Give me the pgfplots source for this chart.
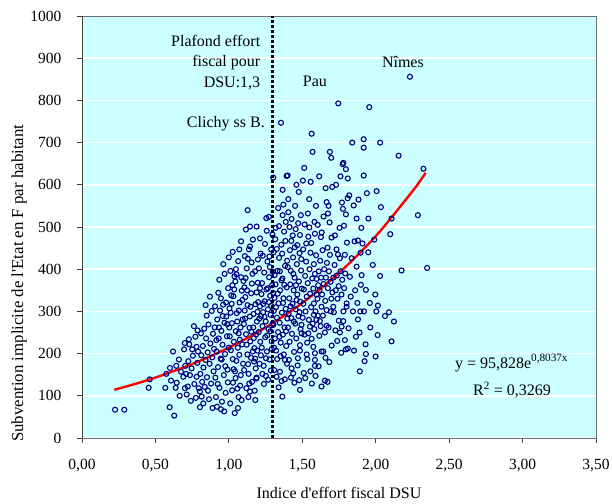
\documentclass[border=0pt]{standalone}
\usepackage{pgfplots}
\pgfplotsset{compat=1.18}
\usepackage{fontspec}
\setmainfont{Liberation Serif}
\definecolor{bgcyan}{RGB}{204,255,255}
\definecolor{ptblue}{RGB}{0,0,128}
\begin{document}
\begin{tikzpicture}
\path[use as bounding box] (0,0) rectangle (612bp,504bp);
\begin{axis}[
  at={(82bp,66bp)}, anchor=south west,
  scale only axis, width=514bp, height=422bp,
  xmin=0, xmax=3.5, ymin=0, ymax=1000,
  xtick={0,0.5,1,1.5,2,2.5,3,3.5},
  ytick={0,100,200,300,400,500,600,700,800,900,1000},
  axis background/.style={fill=bgcyan},
  ymajorgrids, grid style={white, line width=1.6bp},
  tick align=outside, tick pos=left, major tick length=5bp,
  tick style={black!75, line width=0.8bp},
  axis line style={draw=gray!85!black, line width=0.8bp},
  /pgf/number format/assume math mode=true,
  tick label style={font=\fontsize{15.5bp}{18bp}\selectfont},
  xticklabel style={yshift=-13bp, /pgf/number format/.cd, fixed, fixed zerofill, precision=2, use comma},
  yticklabel style={xshift=-12bp, /pgf/number format/.cd, 1000 sep={}},
  clip=true,
]
\addplot[only marks, mark=o, mark size=2.5bp, mark options={draw=ptblue, fill=white, line width=1.1bp}] coordinates {
(0.225,67) (0.288,67) (0.454,119) (0.461,139) (0.567,119) (0.574,152) (0.597,73) (0.599,166)
(0.606,136) (0.628,53) (0.638,119) (0.642,171) (0.645,131) (0.66,186) (0.674,157) (0.69,145) (0.62,205) (0.665,100) (0.695,210) (0.70,225)
(0.703,171) (0.724,182) (0.701,118) (0.713,103) (0.728,234) (0.73,222) (0.746,165) (0.735,149) (0.72,122) (0.78,216) (0.79,205) (0.78,145) (0.755,195) (0.765,128) (0.772,240) (0.741,88) (0.785,178) (0.762,265) (0.795,118) (0.751,210) (0.787,255) (0.709,152) (0.775,95)
(0.803,73) (0.815,98) (0.803,110) (0.81,248) (0.849,290)
(0.806,152) (0.812,196) (0.818,133) (0.823,218) (0.827,167) (0.832,259) (0.836,121) (0.841,185) (0.845,236) (0.851,144) (0.856,203) (0.861,269) (0.865,92) (0.869,176) (0.874,224) (0.879,129) (0.883,301) (0.887,191) (0.892,247) (0.896,158) (0.826,82) (0.858,112) (0.871,335) (0.889,71) (0.842,315) (0.899,211)
(0.928,344) (0.946,331) (0.946,68) (0.971,389) (0.935,375) (0.962,412)
(0.903,262) (0.908,143) (0.912,97) (0.917,205) (0.921,281) (0.926,168) (0.931,236) (0.936,119) (0.94,302) (0.944,188) (0.949,254) (0.953,86) (0.957,221) (0.961,316) (0.966,149) (0.97,273) (0.974,199) (0.978,107) (0.983,288) (0.987,241) (0.991,162) (0.995,355) (0.999,214)
(0.906,312) (0.919,74) (0.933,262) (0.951,186) (0.968,63) (0.981,321) (0.993,132) (0.915,232) (0.958,289) (0.976,170) (0.989,270) (0.924,128)
(1.000,428) (1.026,441) (1.048,400) (1.037,352) (1.040,59) (1.087,90)
(1.003,262) (1.012,297) (1.019,318) (1.031,336) (1.044,371) (1.052,388) (1.063,419) (1.071,447) (1.083,466) (1.092,327)
(1.006,241) (1.014,208) (1.027,187) (1.033,163) (1.046,142) (1.058,117) (1.066,97) (1.077,124) (1.081,149) (1.097,176)
(1.009,82) (1.022,113) (1.028,131) (1.042,158) (1.051,183) (1.061,214) (1.074,233) (1.079,262) (1.094,281)
(1.004,307) (1.016,338) (1.024,362) (1.038,383) (1.047,253) (1.057,276) (1.068,302) (1.073,321) (1.088,349) (1.099,372)
(1.062,71) (1.034,228) (1.071,197) (1.021,272) (1.091,222) (1.054,296) (1.084,381) (1.011,396) (1.067,248)
(1.128,540) (1.144,501) (1.116,494) (1.189,501) (1.144,454) (1.155,416) (1.144,110) (1.18,90)
(1.103,270) (1.108,302) (1.112,334) (1.117,246) (1.121,221) (1.126,198) (1.131,175) (1.135,152) (1.139,129) (1.143,288) (1.148,311) (1.152,343) (1.157,366) (1.161,389) (1.166,262) (1.17,237) (1.174,213) (1.179,188) (1.183,165) (1.187,141) (1.191,276) (1.195,299) (1.199,322)
(1.106,357) (1.114,379) (1.122,402) (1.129,425) (1.137,447) (1.146,229) (1.153,252) (1.163,205) (1.172,181) (1.181,317) (1.189,345) (1.197,368) (1.104,161) (1.119,118) (1.133,97) (1.158,133) (1.176,112) (1.193,207) (1.111,283) (1.127,315) (1.141,261) (1.168,294) (1.185,245) (1.109,431) (1.164,470) (1.178,395) (1.198,423) (1.124,350) (1.151,190)
(1.212,473) (1.255,521) (1.273,524) (1.252,147) (1.189,143)
(1.203,251) (1.207,283) (1.211,312) (1.214,228) (1.218,196) (1.222,341) (1.226,367) (1.229,265) (1.233,298) (1.237,171) (1.241,392) (1.244,324) (1.248,239) (1.251,276) (1.256,352) (1.259,205) (1.263,418) (1.266,305) (1.27,258) (1.274,381) (1.277,186) (1.281,337) (1.284,292) (1.288,447) (1.291,229) (1.295,362) (1.298,271)
(1.205,402) (1.216,437) (1.228,152) (1.239,128) (1.246,460) (1.258,491) (1.268,138) (1.279,405) (1.286,160) (1.297,482)
(1.209,176) (1.224,214) (1.235,318) (1.253,189) (1.261,243) (1.272,322) (1.283,253) (1.292,211) (1.299,394) (1.218,289) (1.243,287) (1.265,355) (1.289,313) (1.231,432) (1.276,430) (1.212,355)
(1.302,617) (1.355,747) (1.366,588) (1.393,621) (1.366,528) (1.364,98) (1.309,161) (1.325,145) (1.348,157) (1.382,185)
(1.303,268) (1.306,301) (1.311,332) (1.314,236) (1.318,364) (1.322,207) (1.327,285) (1.331,396) (1.335,251) (1.338,319) (1.342,427) (1.346,273) (1.349,350) (1.353,226) (1.357,458) (1.361,297) (1.365,378) (1.368,245) (1.372,331) (1.376,489) (1.379,262) (1.383,408) (1.387,306) (1.391,218) (1.394,357) (1.398,283)
(1.305,440) (1.316,471) (1.329,187) (1.341,502) (1.352,194) (1.363,437) (1.374,198) (1.385,467) (1.396,176) (1.301,344) (1.312,386) (1.321,310) (1.333,342) (1.344,240) (1.358,374) (1.369,320) (1.377,363) (1.389,253) (1.397,420) (1.308,214) (1.326,448) (1.339,120) (1.359,135) (1.381,139) (1.336,545) (1.371,553) (1.319,498) (1.347,395) (1.387,512)
(1.40,622) (1.405,566) (1.405,535) (1.427,519) (1.455,495) (1.484,481) (1.425,467) (1.466,457) (1.46,600) (1.49,528) (1.484,114) (1.427,165) (1.438,153) (1.495,268) (1.495,248) (1.484,220) (1.484,207)
(1.403,262) (1.407,295) (1.411,331) (1.414,228) (1.418,364) (1.422,396) (1.426,284) (1.43,247) (1.433,318) (1.437,428) (1.441,350) (1.444,204) (1.448,380) (1.452,271) (1.455,305) (1.459,236) (1.463,412) (1.466,340) (1.47,189) (1.474,289) (1.477,371) (1.481,438) (1.485,323) (1.488,258) (1.492,397) (1.496,354)
(1.409,185) (1.423,143) (1.446,131) (1.468,172) (1.479,137) (1.416,445) (1.435,480) (1.449,452) (1.472,509) (1.493,424) (1.401,405) (1.42,312) (1.442,276) (1.461,327) (1.482,298) (1.439,389) (1.457,362) (1.413,500) (1.451,550) (1.476,583)
(1.504,610) (1.557,607) (1.564,721) (1.57,678) (1.547,566) (1.593,550) (1.548,499) (1.527,461) (1.534,187) (1.586,171) (1.575,216) (1.552,264) (1.579,319) (1.579,292) (1.586,201) (1.586,185) (1.586,484) (1.541,477)
(1.503,285) (1.507,318) (1.511,352) (1.515,245) (1.519,384) (1.522,300) (1.526,418) (1.53,335) (1.533,226) (1.537,367) (1.541,248) (1.545,280) (1.549,400) (1.553,342) (1.556,439) (1.56,310) (1.564,235) (1.568,378) (1.571,271) (1.575,354) (1.579,412) (1.582,258) (1.586,389) (1.59,300) (1.594,433) (1.598,340)
(1.51,154) (1.52,142) (1.53,198) (1.555,158) (1.565,129) (1.59,147) (1.506,447) (1.516,506) (1.538,532) (1.561,462) (1.583,512) (1.597,377) (1.513,640) (1.596,280)
(1.659,592) (1.666,559) (1.679,550) (1.675,532) (1.686,511) (1.632,487) (1.627,476) (1.672,451) (1.688,434) (1.62,277) (1.625,265) (1.666,266) (1.679,262) (1.654,250) (1.616,242) (1.631,205) (1.643,205) (1.684,180) (1.654,136) (1.672,133) (1.631,122) (1.666,303) (1.631,311) (1.688,678) (1.697,664)
(1.603,330) (1.608,362) (1.612,395) (1.617,350) (1.622,420) (1.628,380) (1.635,340) (1.638,445) (1.645,365) (1.649,400) (1.656,325) (1.661,380) (1.668,415) (1.674,355) (1.681,395) (1.692,370) (1.698,330) (1.606,290) (1.641,290) (1.694,300) (1.611,170) (1.658,190) (1.605,505) (1.645,525) (1.699,475) (1.615,620)
(1.745,793) (1.704,595) (1.78,652) (1.775,649) (1.797,637) (1.77,558) (1.777,543) (1.722,480) (1.733,447) (1.743,435) (1.756,426) (1.79,434) (1.797,530) (1.784,503) (1.754,498) (1.70,219) (1.715,298) (1.711,311) (1.797,210) (1.765,202) (1.79,232) (1.756,250) (1.768,264) (1.779,277) (1.749,278) (1.802,311) (1.802,319)
(1.705,345) (1.712,380) (1.72,410) (1.728,350) (1.735,385) (1.74,330) (1.748,360) (1.76,395) (1.767,340) (1.772,375) (1.785,355) (1.792,390) (1.725,255) (1.738,230) (1.78,300) (1.73,600) (1.76,620)
(1.82,575) (1.809,568) (1.84,700) (1.85,551) (1.883,565) (1.856,466) (1.879,468) (1.804,463) (1.902,498) (1.897,439) (1.824,382) (1.87,406) (1.836,426) (1.852,207) (1.879,281) (1.892,158) (1.81,212) (1.83,335) (1.845,300) (1.86,350) (1.875,320) (1.89,250) (1.815,260) (1.865,240) (1.81,615) (1.87,520) (1.895,300)
(1.918,708) (1.918,688) (1.956,784) (1.918,622) (1.904,386) (1.899,363) (1.933,351) (1.949,440) (1.963,262) (1.931,222) (1.933,199) (1.999,193) (1.924,182) (1.997,340) (1.91,461) (1.95,520) (1.94,580) (1.98,410) (1.92,300) (1.96,320) (1.99,470)
(2.006,585) (2.03,700) (2.035,547) (2.015,314) (2.004,300) (2.09,298) (2.063,289) (2.124,276) (2.013,244) (2.108,229) (2.03,384) (2.099,483) (2.108,520) (2.176,397) (2.156,669) (2.233,856) (2.325,638) (2.35,403) (2.287,528)
};
\addplot[red, line width=2.4bp, smooth] coordinates {
(0.22,114.4) (0.35,126.9) (0.5,143.2) (0.75,175.1) (1.0,214.1) (1.25,261.7) (1.5,319.9) (1.75,391.1) (2.0,478.2) (2.25,584.6) (2.34,628.4)
};
\addplot[black, line width=3bp, dash pattern=on 3bp off 2bp] coordinates {(1.3,0) (1.3,1000)};
\draw[black!75, line width=0.8bp] (rel axis cs:0,0) -- (rel axis cs:0,1);
\draw[black!75, line width=0.8bp] (rel axis cs:0,0) -- (rel axis cs:1,0);
\begin{scope}[every node/.style={font=\fontsize{16bp}{19bp}\selectfont, inner sep=0pt}]
\node[anchor=east] at (axis cs:1.215,941) {Plafond effort};
\node[anchor=east] at (axis cs:1.215,889) {fiscal pour};
\node[anchor=east] at (axis cs:1.215,840) {DSU:1,3};
\node[anchor=east] at (axis cs:1.246,744) {Clichy ss B.};
\node at (axis cs:1.586,844) {Pau};
\node at (axis cs:2.185,891) {Nîmes};
\node[anchor=west] at (axis cs:2.539,178) {y = 95,828e\textsuperscript{0,8037x}};
\node[anchor=west] at (axis cs:2.662,114) {R\textsuperscript{2} = 0,3269};
\end{scope}
\end{axis}
\node[font=\fontsize{16bp}{19bp}\selectfont] at (339bp,11bp) {Indice d\textquotesingle effort fiscal DSU};
\begin{scope}
\clip (0,0) rectangle (60bp,453bp);
\node[rotate=90, anchor=west, inner sep=0pt, font=\fontsize{16.8bp}{19bp}\selectfont] at (19bp,62bp) {Subvention implicite de l\textquotesingle Etat en F par habitant};
\end{scope}
\end{tikzpicture}
\end{document}
